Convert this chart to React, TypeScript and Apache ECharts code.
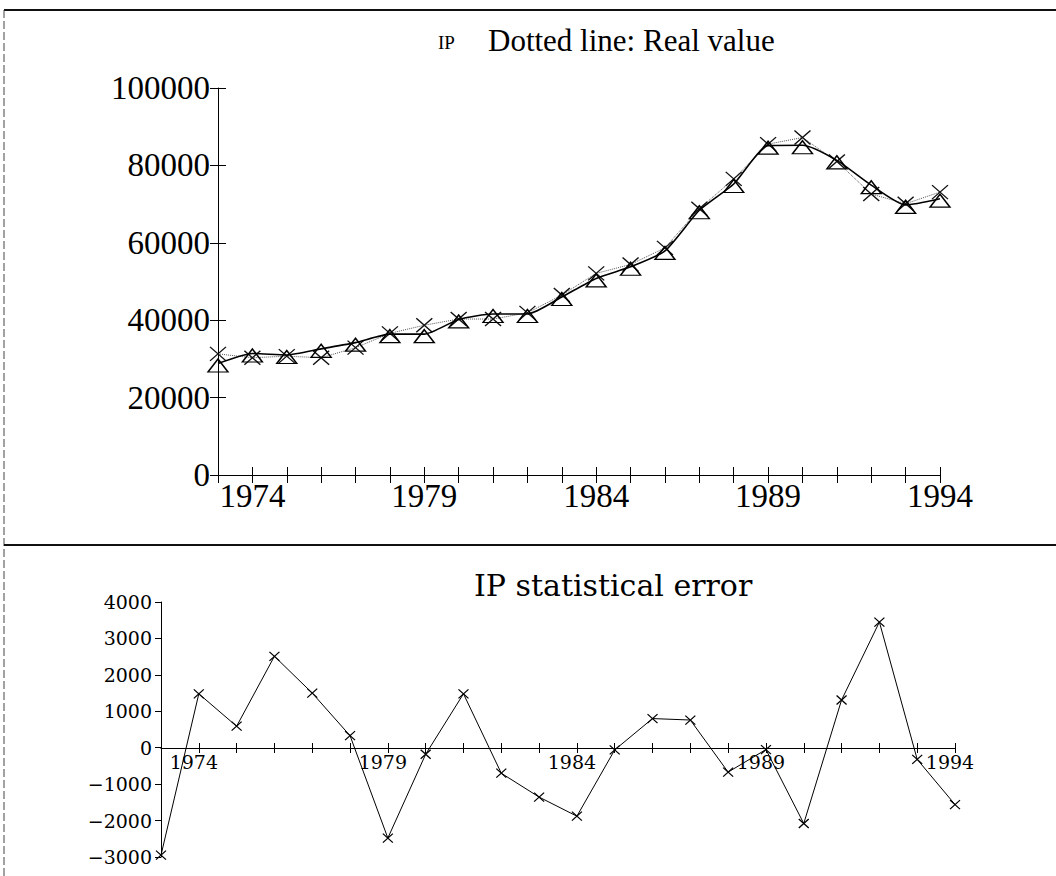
import React, { useEffect, useRef } from "react";
import * as echarts from "echarts";

const years = [1973, 1974, 1975, 1976, 1977, 1978, 1979, 1980, 1981, 1982, 1983, 1984, 1985, 1986, 1987, 1988, 1989, 1990, 1991, 1992, 1993, 1994];
const fittedValues = [28800, 31400, 31000, 32600, 34200, 36400, 36400, 40200, 41600, 41600, 46000, 50800, 53800, 57900, 68400, 75200, 85100, 85200, 81300, 74900, 69800, 71400];
const realValues = [31300, 30300, 30700, 30300, 32900, 36600, 38700, 40300, 40300, 41900, 46500, 52100, 54400, 58700, 68800, 76500, 85500, 87200, 81000, 72600, 70100, 73100];
const errorValues = [-2950, 1480, 590, 2510, 1500, 330, -2480, -180, 1480, -700, -1355, -1880, -60, 800, 760, -670, -50, -2080, 1310, 3450, -320, -1560];
const labelYears = [1974, 1979, 1984, 1989, 1994];
const topTitleSmall = "IP";
const topTitle = "Dotted line: Real value";
const bottomTitle = "IP statistical error";

const CROSS = "path://M0,0L10,10M10,0L0,10";

export default function App() {
  const ref = useRef<HTMLDivElement>(null);
  useEffect(() => {
    if (!ref.current) return;
    const chart = echarts.init(ref.current, null, { renderer: "svg" });
    const pair = (vals: number[]) => years.map((y, i) => [y, vals[i]]);
    const yearFmt = (v: number) => (labelYears.includes(v) ? String(v) : "");
    const topFont = "Liberation Serif";
    const botFont = "DejaVu Serif";
    const black = "#000";

    const xBase = (gridIndex: number) => ({
      type: "value",
      gridIndex,
      min: 1973,
      max: 1994,
      interval: 1,
      position: "bottom",
      splitLine: { show: false },
    });

    chart.setOption({
      animation: false,
      backgroundColor: "#fff",
      grid: [
        { left: 218, right: 116, top: 88, bottom: 401, containLabel: false },
        { left: 161, right: 101, top: 602, bottom: 19, containLabel: false },
        { left: 161, right: 101, top: 602, bottom: 128, containLabel: false },
      ],
      xAxis: [
        {
          ...xBase(0),
          axisLine: { onZero: false, lineStyle: { color: black, width: 1.2 } },
          axisTick: { length: 8, lineStyle: { color: black } },
          axisLabel: { formatter: yearFmt, color: black, fontFamily: topFont, fontSize: 33, margin: 4, hideOverlap: false },
        },
        {
          ...xBase(0),
          axisLine: { show: false, onZero: false },
          axisTick: { inside: true, length: 8, lineStyle: { color: black } },
          axisLabel: { show: false },
        },
        {
          ...xBase(1),
          show: false,
          axisLine: { show: false, onZero: false },
          axisTick: { show: false },
          axisLabel: { show: false },
        },
        {
          ...xBase(2),
          axisLine: { onZero: false, lineStyle: { color: black, width: 1.2 } },
          axisTick: { length: 5, lineStyle: { color: black } },
          axisLabel: { formatter: yearFmt, color: black, fontFamily: botFont, fontSize: 19, margin: 4, padding: [0, 10, 0, 0], hideOverlap: false },
        },
        {
          ...xBase(2),
          axisLine: { show: false, onZero: false },
          axisTick: { inside: true, length: 5, lineStyle: { color: black } },
          axisLabel: { show: false },
        },
      ],
      yAxis: [
        {
          type: "value",
          gridIndex: 0,
          position: "left",
          min: 0,
          max: 100000,
          interval: 20000,
          splitLine: { show: false },
          axisLine: { show: true, onZero: false, lineStyle: { color: black, width: 1 } },
          axisTick: { show: true, length: 8, lineStyle: { color: black } },
          axisLabel: { color: black, fontFamily: topFont, fontSize: 33, margin: 8, formatter: (v: number) => String(v) },
        },
        {
          type: "value",
          gridIndex: 0,
          position: "left",
          min: 0,
          max: 100000,
          interval: 20000,
          splitLine: { show: false },
          axisLine: { show: false, onZero: false },
          axisTick: { show: true, inside: true, length: 8, lineStyle: { color: black } },
          axisLabel: { show: false },
        },
        {
          type: "value",
          gridIndex: 1,
          position: "left",
          min: -3000,
          max: 4000,
          interval: 1000,
          splitLine: { show: false },
          axisLine: { show: true, onZero: false, lineStyle: { color: black, width: 1 } },
          axisTick: { show: true, length: 6, lineStyle: { color: black } },
          axisLabel: {
            color: black,
            fontFamily: botFont,
            fontSize: 19,
            margin: 9,
            formatter: (v: number) => String(v).replace("-", "\u2212"),
          },
        },
        {
          type: "value",
          gridIndex: 2,
          show: false,
          min: 0,
          max: 4000,
          splitLine: { show: false },
        },
      ],
      series: [
        {
          name: "Real value",
          type: "line",
          xAxisIndex: 0,
          yAxisIndex: 0,
          data: pair(realValues),
          symbol: CROSS,
          symbolSize: [16, 14],
          showAllSymbol: true,
          lineStyle: { color: "#555", width: 1, type: "dotted" },
          itemStyle: { color: "none", borderColor: "#111", borderWidth: 1.3 },
          z: 2,
        },
        {
          name: "Fitted",
          type: "line",
          xAxisIndex: 0,
          yAxisIndex: 0,
          data: pair(fittedValues),
          smooth: 0.2,
          symbol: "triangle",
          symbolSize: [20, 13],
          symbolOffset: [0, 2],
          showAllSymbol: true,
          lineStyle: { color: black, width: 1.6 },
          itemStyle: { color: "rgba(255,255,255,0)", borderColor: black, borderWidth: 1.4 },
          z: 3,
        },
        {
          name: "IP statistical error",
          type: "line",
          xAxisIndex: 2,
          yAxisIndex: 2,
          data: pair(errorValues),
          symbol: CROSS,
          symbolSize: [10, 9],
          showAllSymbol: true,
          lineStyle: { color: black, width: 1 },
          itemStyle: { color: "none", borderColor: black, borderWidth: 1.2 },
          z: 3,
        },
      ],
      graphic: [
        { type: "line", shape: { x1: 4, y1: 10, x2: 1056, y2: 10 }, style: { stroke: "#111", lineWidth: 2 } },
        { type: "line", shape: { x1: 4, y1: 10, x2: 4, y2: 876 }, style: { stroke: "#444", lineWidth: 1, lineDash: [8, 3] } },
        { type: "line", shape: { x1: 4, y1: 545, x2: 1056, y2: 545 }, style: { stroke: "#111", lineWidth: 2 } },
        {
          type: "text",
          x: 438,
          y: 42,
          style: { text: topTitleSmall, font: `19px "${topFont}"`, fill: black, textVerticalAlign: "middle" },
        },
        {
          type: "text",
          x: 488,
          y: 40,
          style: { text: topTitle, font: `31px "${topFont}"`, fill: black, textVerticalAlign: "middle" },
        },
        {
          type: "text",
          x: 474,
          y: 585,
          style: { text: bottomTitle, font: `30px "${botFont}"`, fill: black, textVerticalAlign: "middle" },
        },
      ],
    });
    return () => chart.dispose();
  }, []);
  return (
    <div
      ref={ref}
      style={{ position: "absolute", left: 0, top: 0, width: 1056, height: 876, background: "#fff" }}
    />
  );
}
